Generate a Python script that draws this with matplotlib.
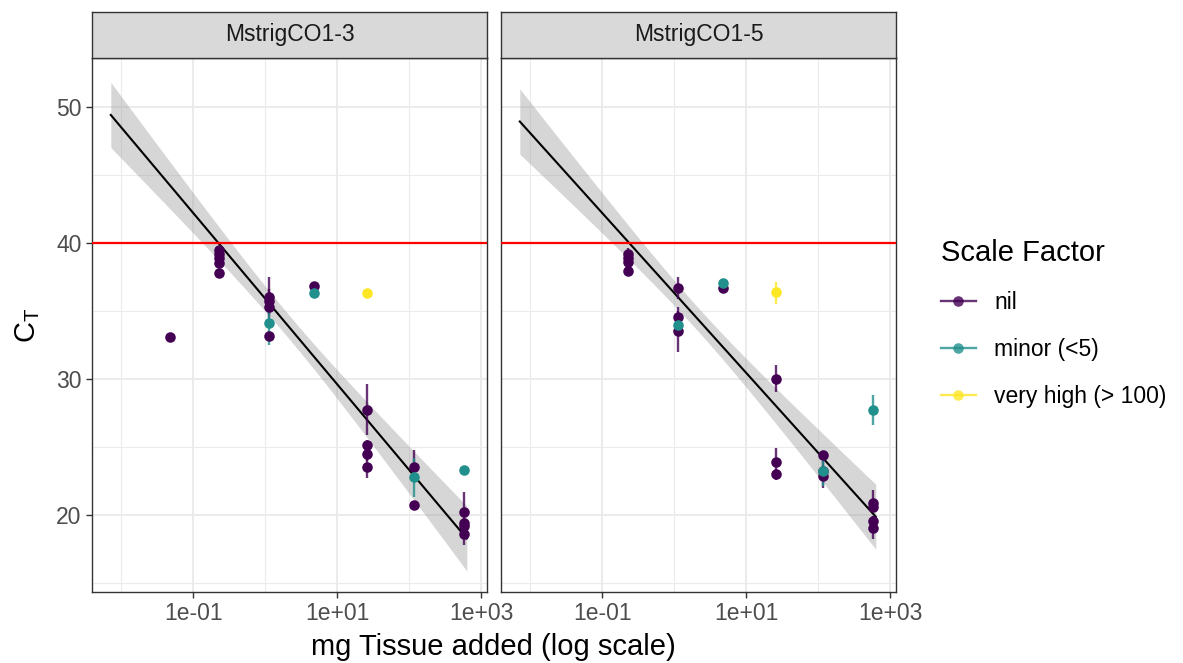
import numpy as np
import matplotlib
matplotlib.use("Agg")
import matplotlib.pyplot as plt
from matplotlib.lines import Line2D

plt.rcParams["font.family"] = ["Liberation Sans", "DejaVu Sans"]
plt.rcParams["mathtext.fontset"] = "custom"
plt.rcParams["mathtext.rm"] = "Liberation Sans"

# ---------------- data ----------------
panels = ["MstrigCO1-3", "MstrigCO1-5"]
groups = ["nil", "minor (<5)", "very high (> 100)"]
group_colors = ["#440154", "#21908C", "#FDE725"]

# Panel 1: MstrigCO1-3
p1_tissue = [0.047, 0.23, 0.23, 0.23, 0.23, 0.23,
             1.12, 1.12, 1.12, 1.12, 1.12,
             4.8, 4.8,
             26, 26, 26, 26, 26,
             118, 118, 118,
             575, 575, 575, 575, 575]
p1_ct = [33.1, 39.5, 39.2, 38.9, 38.5, 37.8,
         36.0, 35.7, 35.3, 33.15, 34.1,
         36.85, 36.3,
         36.3, 27.75, 25.17, 24.5, 23.5,
         23.5, 20.7, 22.77,
         23.3, 20.25, 19.43, 19.2, 18.58]
p1_lo = [33.1, 39.2, 38.9, 38.6, 38.2, 37.5,
         35.3, 33.9, 34.8, 32.8, 32.5,
         36.5, 36.0,
         36.0, 25.9, 24.8, 24.0, 22.7,
         22.6, 20.4, 21.3,
         23.1, 19.0, 19.1, 18.9, 17.8]
p1_hi = [33.1, 39.8, 39.5, 39.2, 38.8, 38.1,
         36.6, 37.5, 35.8, 33.5, 35.6,
         37.1, 36.6,
         36.6, 29.6, 25.5, 25.0, 24.2,
         24.8, 21.0, 24.2,
         23.5, 21.7, 19.8, 19.5, 19.3]
p1_group = ["nil", "nil", "nil", "nil", "nil", "nil",
            "nil", "nil", "nil", "nil", "minor (<5)",
            "nil", "minor (<5)",
            "very high (> 100)", "nil", "nil", "nil", "nil",
            "nil", "nil", "minor (<5)",
            "minor (<5)", "nil", "nil", "nil", "nil"]

# Panel 2: MstrigCO1-5
p2_tissue = [0.23, 0.23, 0.23, 0.23,
             1.12, 1.12, 1.12, 1.12,
             4.8, 4.8,
             26, 26, 26, 26,
             118, 118, 118, 118,
             575, 575, 575, 575, 575]
p2_ct = [39.2, 38.9, 38.6, 37.9,
         36.7, 34.56, 33.5, 33.95,
         36.7, 37.07,
         36.4, 30.0, 23.86, 23.0,
         24.43, 23.25, 22.9, 23.2,
         27.7, 20.9, 20.55, 19.56, 19.07]
p2_lo = [38.8, 38.6, 38.3, 37.6,
         35.9, 33.8, 32.0, 33.3,
         36.4, 36.8,
         35.5, 29.0, 23.3, 22.6,
         24.1, 22.5, 22.0, 22.1,
         26.6, 20.5, 20.2, 19.2, 18.2]
p2_hi = [39.6, 39.2, 38.9, 38.2,
         37.5, 35.3, 35.0, 34.6,
         37.0, 37.3,
         37.1, 31.05, 24.9, 23.4,
         24.7, 24.0, 23.5, 24.3,
         28.8, 21.85, 20.9, 19.9, 19.9]
p2_group = ["nil", "nil", "nil", "nil",
            "nil", "nil", "nil", "minor (<5)",
            "nil", "minor (<5)",
            "very high (> 100)", "nil", "nil", "nil",
            "nil", "nil", "nil", "minor (<5)",
            "minor (<5)", "nil", "nil", "nil", "nil"]

# regression (CT = intercept + slope * log10(mg)), fit range and CI shape
fit_range = [0.0071, 630.0]
fit_intercept = [35.88, 36.30]
fit_slope = [-6.29, -5.87]
ci_center_log = 0.33
ci_min_halfwidth = 0.87
ci_spread = 0.90

threshold_ct = 40

# ---------------- figure ----------------
W, H = 1183, 663
fig = plt.figure(figsize=(W / 100, H / 100), dpi=100)

panel_x = [92, 501]
panel_w = 395
panel_top, panel_bot = 58, 592
strip_top = 12

data = [
    (p1_tissue, p1_ct, p1_lo, p1_hi, p1_group),
    (p2_tissue, p2_ct, p2_lo, p2_hi, p2_group),
]

border_col = "#333333"
grid_col = "#EBEBEB"

for i, name in enumerate(panels):
    x0 = panel_x[i] / W
    ax = fig.add_axes([x0, 1 - panel_bot / H, panel_w / W, (panel_bot - panel_top) / H])
    sax = fig.add_axes([x0, 1 - panel_top / H, panel_w / W, (panel_top - strip_top) / H])

    # strip
    sax.set_facecolor("#D9D9D9")
    sax.set_xticks([])
    sax.set_yticks([])
    for sp in sax.spines.values():
        sp.set_color(border_col)
        sp.set_linewidth(1.0)
    sax.text(0.5, 0.5, name, ha="center", va="center", fontsize=16.5,
             color="#1A1A1A", transform=sax.transAxes)

    ax.set_xscale("log")
    ax.set_xlim(10 ** -2.41, 10 ** 3.08)
    ax.set_ylim(14.34, 53.58)

    # grid
    for v in [0.01, 1, 100]:
        ax.axvline(v, color=grid_col, lw=0.8, zorder=0)
    for v in [15, 25, 35, 45]:
        ax.axhline(v, color=grid_col, lw=0.8, zorder=0)
    for v in [0.1, 10, 1000]:
        ax.axvline(v, color=grid_col, lw=1.4, zorder=0)
    for v in [20, 30, 40, 50]:
        ax.axhline(v, color=grid_col, lw=1.4, zorder=0)

    ax.set_xticks([0.1, 10, 1000])
    ax.set_xticklabels(["1e-01", "1e+01", "1e+03"])
    ax.xaxis.set_minor_locator(matplotlib.ticker.NullLocator())
    ax.set_yticks([20, 30, 40, 50])
    if i == 0:
        ax.set_yticklabels(["20", "30", "40", "50"])
    else:
        ax.tick_params(axis="y", labelleft=False, left=False)
    ax.tick_params(axis="both", which="major", length=4.5, width=1.0,
                   color=border_col, labelcolor="#4D4D4D", labelsize=16.5, pad=3)
    for sp in ax.spines.values():
        sp.set_color(border_col)
        sp.set_linewidth(1.0)

    # regression band + line
    fx = np.logspace(np.log10(fit_range[0]), np.log10(fit_range[1]), 200)
    lfx = np.log10(fx)
    fy = fit_intercept[i] + fit_slope[i] * lfx
    hw = np.sqrt(ci_min_halfwidth ** 2 + ci_spread ** 2 * (lfx - ci_center_log) ** 2)
    ax.fill_between(fx, fy - hw, fy + hw, color="#999999", alpha=0.4, lw=0, zorder=2)
    ax.plot(fx, fy, color="black", lw=1.5, zorder=3)

    # threshold
    ax.axhline(threshold_ct, color="#FF0000", lw=1.6, zorder=4)

    # points
    tx, ct, lo, hi, gp = data[i]
    tx = np.array(tx); ct = np.array(ct); lo = np.array(lo); hi = np.array(hi)
    gp = np.array(gp)
    for g, col in zip(groups, group_colors):
        m = gp == g
        if not m.any():
            continue
        ax.vlines(tx[m], lo[m], hi[m], color=col, alpha=0.8, lw=1.7, zorder=5)
        ax.plot(tx[m], ct[m], "o", color=col, ms=7.6, mec="none", zorder=6)

# axis labels
fig.text(493.5 / W, 1 - 647 / H, "mg Tissue added (log scale)", ha="center",
         va="center", fontsize=21, color="black")
fig.text(28 / W, 1 - 325 / H, r"$\mathrm{C}_\mathrm{T}$", ha="center", va="center",
         fontsize=21, rotation=90, color="black")

# legend
handles = [Line2D([0], [0], color=c, lw=1.7, marker="o", ms=7.6, mec="none")
           for c in group_colors]
leg = fig.legend(handles, groups, loc="upper left",
                 bbox_to_anchor=(920 / W, 1 - 218 / H), title="Scale Factor",
                 frameon=False, fontsize=16.5, title_fontsize=21,
                 handlelength=1.55, handletextpad=0.8, labelspacing=1.05,
                 alignment="left")
for t in leg.get_texts():
    t.set_color("black")
for lh in leg.legend_handles:
    lh.set_alpha(0.8)

fig.savefig("out.png", dpi=100)
